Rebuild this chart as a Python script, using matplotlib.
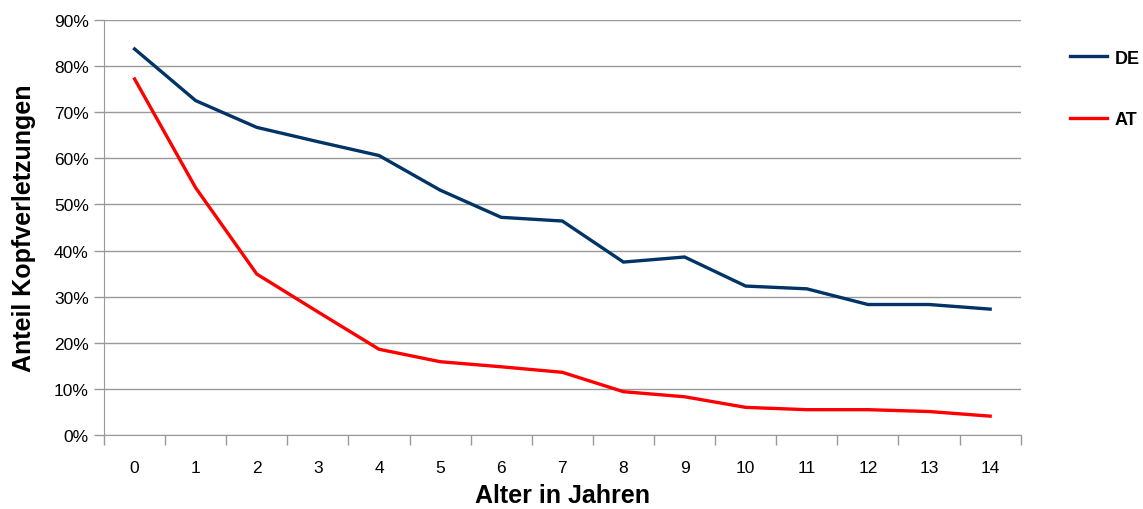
import matplotlib.pyplot as plt
from matplotlib.ticker import FuncFormatter, FixedLocator

# data
alter = list(range(15))
de = [83.7, 72.5, 66.7, 63.6, 60.6, 53.1, 47.2, 46.4, 37.5, 38.6, 32.3, 31.7, 28.3, 28.3, 27.3]
at = [77.2, 53.6, 34.9, 26.7, 18.6, 15.9, 14.8, 13.6, 9.4, 8.3, 6.0, 5.5, 5.5, 5.1, 4.1]

plt.rcParams['font.family'] = ['Liberation Sans', 'DejaVu Sans']

fig = plt.figure(figsize=(11.43, 5.10), dpi=100)
ax = fig.add_axes([0.091, 0.145, 0.802, 0.814])

ax.plot(alter, de, color='#003366', lw=2.4, label='DE', solid_joinstyle='miter')
ax.plot(alter, at, color='#ff0000', lw=2.4, label='AT', solid_joinstyle='miter')

ax.set_xlim(-0.5, 14.5)
ax.set_ylim(0, 90)
ax.set_yticks(range(0, 91, 10))
ax.yaxis.set_major_formatter(FuncFormatter(lambda v, p: f'{int(v)}%'))
ax.grid(axis='y', color='#999999', lw=1)
ax.set_axisbelow(True)

# category axis: tick marks between categories, labels centred
ax.set_xticks([i - 0.5 for i in range(16)])
ax.set_xticklabels([])
ax.xaxis.set_minor_locator(FixedLocator(alter))
ax.set_xticklabels([str(a) for a in alter], minor=True)
ax.tick_params(axis='x', which='minor', length=0, labelsize=12.5, pad=18)
ax.tick_params(axis='x', which='major', length=7, color='#999999', width=1)
ax.tick_params(axis='y', length=7, color='#999999', width=1, labelsize=12.5, pad=4)

for s in ['top', 'right']:
    ax.spines[s].set_visible(False)
for s in ['left', 'bottom']:
    ax.spines[s].set_color('#999999')

ax.set_xlabel('Alter in Jahren', fontsize=18, fontweight='bold', labelpad=6)
ax.set_ylabel('Anteil Kopfverletzungen', fontsize=18, fontweight='bold', labelpad=13)

leg = fig.legend(loc='upper left', bbox_to_anchor=(0.931, 0.911), frameon=False,
                 handlelength=2.1, labelspacing=2.45, handletextpad=0.4,
                 borderaxespad=0, borderpad=0.3,
                 prop={'weight': 'bold', 'size': 13})

fig.savefig('out.png', dpi=100)
